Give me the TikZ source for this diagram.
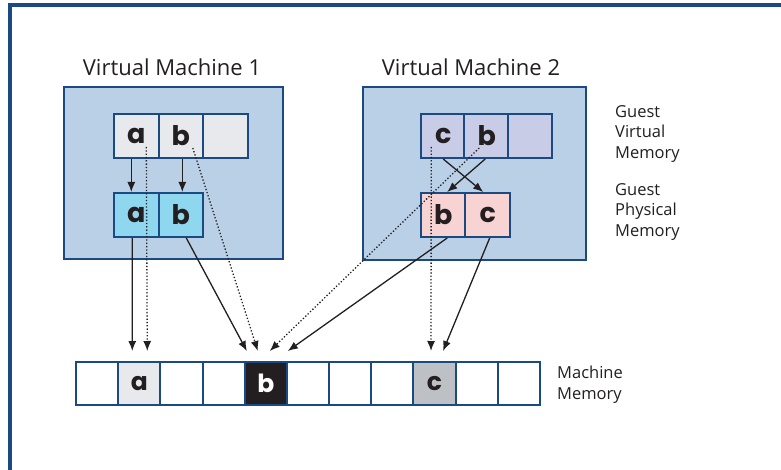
\documentclass[tikz,border=0pt]{standalone}
\usepackage{fontspec}
\setmainfont{Open Sans}
\newfontfamily\cellfont{Poppins}
\usetikzlibrary{arrows.meta}
\definecolor{frm}{HTML}{1B4A82}
\definecolor{vmfill}{HTML}{B9D0E6}
\definecolor{gv1}{HTML}{E8E9ED}
\definecolor{gp1}{HTML}{8FD7EE}
\definecolor{gv2}{HTML}{C9CCE6}
\definecolor{gp2}{HTML}{F7D3D3}
\definecolor{mc}{HTML}{BDC0C4}
\definecolor{ink}{HTML}{231F20}
\tikzset{
vmbox/.style={draw=frm,fill=vmfill,line width=2pt,inner sep=0pt},
cell/.style={draw=frm,line width=2pt,inner sep=0pt,minimum width=44.5pt,minimum height=44pt,font=\cellfont\bfseries\fontsize{27}{27}\selectfont,text=ink},
mcell/.style={cell,fill=white,minimum width=42.2pt,minimum height=43pt,font=\cellfont\bfseries\fontsize{25}{25}\selectfont},
ttl/.style={font=\fontsize{22}{26}\selectfont,text=ink},
side/.style={font=\fontsize{16.5}{20.5}\selectfont,text=ink,align=left,anchor=north west,inner sep=0pt},
arr/.style={-{Latex[length=10pt,width=8pt]},line width=1.3pt,draw=ink},
darr/.style={arr,dotted}
}
\begin{document}
\begin{tikzpicture}[x=1pt,y=-1pt]
\useasboundingbox (0,0) rectangle (781,470);
\draw[frm,line width=3.5pt] (10,470) -- (10,5) -- (781,5);

\node[vmbox,minimum width=219pt,minimum height=172pt] (vm1) at (173.5,173) {};
\node[vmbox,minimum width=223pt,minimum height=173pt] (vm2) at (474.5,173.5) {};
\node[ttl] (vm1t) at (172,67) {Virtual Machine 1};
\node[ttl] (vm2t) at (471,67) {Virtual Machine 2};

\node[cell,fill=gv1] (va1) at (136.3,136) {a};
\node[cell,fill=gv1] (vb1) at (180.8,136) {b};
\node[cell,fill=gv1] (vx1) at (225.3,136) {};
\node[cell,fill=gp1] (pa1) at (136.3,215) {a};
\node[cell,fill=gp1] (pb1) at (180.8,215) {b};

\node[cell,fill=gv2] (vc2) at (443.2,136) {c};
\node[cell,fill=gv2] (vb2) at (486.7,136) {b};
\node[cell,fill=gv2] (vx2) at (530.2,136) {};
\node[cell,fill=gp2] (pb2) at (443.2,215) {b};
\node[cell,fill=gp2] (pc2) at (487.7,215) {c};

\foreach \i in {1,...,11}
  \node[mcell] (m\i) at ({76+(\i-0.5)*42.18},383.5) {};
\node[mcell,fill=gv1] at (m2) {a};
\node[mcell,fill=ink,text=white] at (m5) {b};
\node[mcell,fill=mc] at (m9) {c};

\node[side] (gvm) at (615,105) {Guest\\Virtual\\Memory};
\node[side] (gpm) at (615,183) {Guest\\Physical\\Memory};
\node[side] (mm) at (557,366) {Machine\\Memory};

\draw[arr] ([xshift=-5]va1.south) -- ([xshift=-5]pa1.north);
\draw[arr] ([xshift=1.5]vb1.south) -- ([xshift=1.5]pb1.north);
\draw[arr] ([xshift=-4]pa1.south) -- ([xshift=-7,yshift=10]m2.north);
\draw[arr] ([xshift=5.5]pb1.south) -- ([xshift=-19,yshift=10]m5.north);
\draw[darr] ([xshift=10,yshift=-11]va1.center) -- ([xshift=8,yshift=10]m2.north);
\draw[darr] ([xshift=12,yshift=-12]vb1.center) -- ([xshift=-8,yshift=10]m5.north);

\draw[arr] (vc2.south) -- ([xshift=-4.5]pc2.north);
\draw[arr] ([xshift=-1.5]vb2.south) -- ([xshift=4]pb2.north);
\draw[darr] ([xshift=-12,yshift=-11]vc2.center) -- ([xshift=-3.5,yshift=10]m9.north);
\draw[darr] ([xshift=-7.5,yshift=-12]vb2.center) -- ([xshift=4,yshift=10]m5.north);
\draw[arr] ([xshift=4]pb2.south) -- ([xshift=22,yshift=10]m5.north);
\draw[arr] ([xshift=2]pc2.south) -- ([xshift=8.5,yshift=10]m9.north);
\end{tikzpicture}
\end{document}
